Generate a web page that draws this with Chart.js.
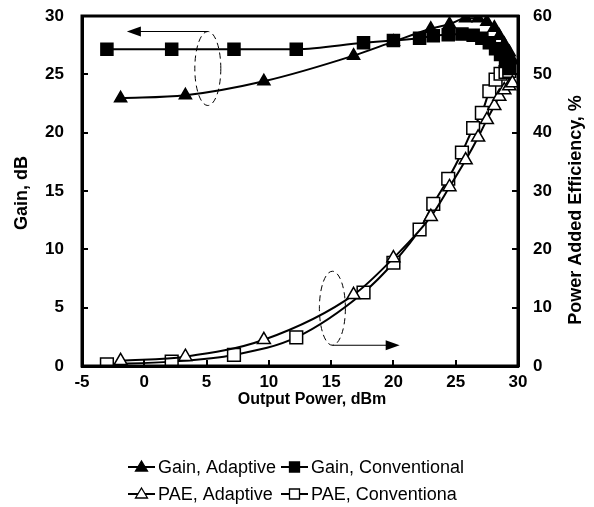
<!DOCTYPE html>
<html>
<head>
<meta charset="utf-8">
<script src="https://cdn.jsdelivr.net/npm/chart.js@4/dist/chart.umd.min.js"></script>
<style>
  html, body { margin: 0; padding: 0; background: #fff; }
  #wrap { width: 594px; height: 507px; }
</style>
</head>
<body>
<div id="wrap"><canvas id="myChart" width="594" height="507"></canvas></div>
<script>
// output power (dBm) for each measured point
const adaptivePower = [-1.9, 3.3, 9.6, 16.8, 20.0, 23.0, 24.5, 25.8, 26.8, 27.5, 28.1, 28.5, 28.9, 29.3, 29.55];
const conventionalPower = [-3.0, 2.2, 7.2, 12.2, 17.6, 20.0, 22.1, 23.2, 24.4, 25.5, 26.4, 27.1, 27.7, 28.2, 28.6, 29.0, 29.3];

// gain, dB
const gainAdaptive = [22.95, 23.2, 24.4, 26.6, 27.8, 28.9, 29.3, 29.8, 29.8, 29.5, 29.0, 28.3, 27.6, 26.9, 26.2];
const gainConventional = [27.15, 27.15, 27.15, 27.15, 27.7, 27.9, 28.1, 28.3, 28.4, 28.45, 28.35, 28.1, 27.7, 27.2, 26.7, 26.1, 25.5];

// power added efficiency, %
const paeAdaptive = [0.9, 1.6, 4.5, 12.2, 18.5, 25.6, 30.7, 35.3, 39.2, 42.2, 44.6, 46.2, 47.3, 48.0, 48.5];
const paeConventional = [0.3, 0.75, 1.9, 4.9, 12.6, 17.7, 23.4, 27.8, 32.1, 36.6, 40.8, 43.4, 47.1, 49.1, 50.1, 50.4, 50.6];

const seriesLabels = ['Gain, Adaptive', 'Gain, Conventional', 'PAE, Adaptive', 'PAE, Conventiona'];

const xTicks = [-5, 0, 5, 10, 15, 20, 25, 30];

function pts(xs, ys) {
  return xs.map((x, i) => ({ x: x, y: ys[i] }));
}

const FONT = "'Liberation Sans', Arial, sans-serif";

// frame, annotations (dashed ellipses with arrows), titles, legend
const extras = {
  id: 'extras',
  afterDatasetsDraw(chart) {
    const ctx = chart.ctx;
    const a = chart.chartArea;
    const x = chart.scales.x, y = chart.scales.y, y2 = chart.scales.y2;
    ctx.save();
    ctx.strokeStyle = '#000';
    ctx.lineWidth = 3;
    ctx.strokeRect(a.left, a.top, a.right - a.left, a.bottom - a.top);

    function ellipse(cx, cy) {
      ctx.save();
      ctx.lineWidth = 1;
      ctx.setLineDash([6, 4]);
      ctx.beginPath();
      ctx.ellipse(cx, cy, 13, 37, 0, 0, Math.PI * 2);
      ctx.stroke();
      ctx.restore();
    }
    function arrow(x1, x2, yy) {
      ctx.save();
      ctx.lineWidth = 1.2;
      ctx.fillStyle = '#000';
      const dir = x2 > x1 ? 1 : -1;
      ctx.beginPath();
      ctx.moveTo(x1, yy);
      ctx.lineTo(x2 - dir * 10, yy);
      ctx.stroke();
      ctx.beginPath();
      ctx.moveTo(x2, yy);
      ctx.lineTo(x2 - dir * 14, yy - 5);
      ctx.lineTo(x2 - dir * 14, yy + 5);
      ctx.closePath();
      ctx.fill();
      ctx.restore();
    }
    // gain group -> left axis
    const gx = x.getPixelForValue(5.1), gy = y.getPixelForValue(25.5);
    ellipse(gx, gy);
    arrow(gx, x.getPixelForValue(-1.4), gy - 37);
    // PAE group -> right axis
    const px = x.getPixelForValue(15.1), py = y2.getPixelForValue(9.9);
    ellipse(px, py);
    arrow(px, x.getPixelForValue(20.5), py + 37);
    ctx.restore();
  },
  afterDraw(chart) {
    const ctx = chart.ctx;
    ctx.save();
    ctx.fillStyle = '#000';
    ctx.textAlign = 'center';
    ctx.textBaseline = 'middle';
    // x title
    ctx.font = 'bold 16px ' + FONT;
    ctx.fillText('Output Power, dBm', 312, 400);
    // y titles, both reading bottom to top
    ctx.font = 'bold 18px ' + FONT;
    ctx.save();
    ctx.translate(22, 193);
    ctx.rotate(-Math.PI / 2);
    ctx.fillText('Gain, dB', 0, 0);
    ctx.restore();
    ctx.translate(576, 210);
    ctx.rotate(-Math.PI / 2);
    ctx.fillText('Power Added Efficiency, %', 0, 0);
    ctx.restore();

    // legend in two rows of two
    const cols = [128, 281], rows = [467, 494];
    ctx.save();
    chart.data.datasets.forEach((ds, i) => {
      const lx = cols[i % 2], ly = rows[Math.floor(i / 2)];
      ctx.strokeStyle = '#000';
      ctx.lineWidth = 2;
      ctx.beginPath();
      ctx.moveTo(lx, ly);
      ctx.lineTo(lx + 27, ly);
      ctx.stroke();
      const cx = lx + 13.5;
      ctx.fillStyle = ds.pointBackgroundColor;
      ctx.lineWidth = 1.3;
      ctx.beginPath();
      if (ds.pointStyle === 'triangle') {
        ctx.moveTo(cx, ly - 6);
        ctx.lineTo(cx + 6, ly + 4);
        ctx.lineTo(cx - 6, ly + 4);
        ctx.closePath();
      } else {
        ctx.rect(cx - 5, ly - 5, 10, 10);
      }
      ctx.fill();
      ctx.stroke();
      ctx.fillStyle = '#000';
      ctx.font = '18px ' + FONT;
      ctx.textBaseline = 'middle';
      ctx.textAlign = 'left';
      ctx.fillText(ds.label, lx + 30, ly + 1);
    });
    ctx.restore();
  }
};

const tickFont = { family: FONT, size: 17, weight: 'bold' };

function noOverflow(s) {
  s.paddingTop = 0;
  s.paddingBottom = 0;
}

const ctx = document.getElementById('myChart').getContext('2d');
const myChart = new Chart(ctx, {
  type: 'scatter',
  data: {
    datasets: [{
      label: seriesLabels[0],
      data: pts(adaptivePower, gainAdaptive),
      yAxisID: 'y',
      pointStyle: 'triangle',
      pointRadius: 7,
      pointBackgroundColor: '#000',
      pointBorderColor: '#000'
    },
    {
      label: seriesLabels[1],
      data: pts(conventionalPower, gainConventional),
      yAxisID: 'y',
      pointStyle: 'rect',
      pointRadius: 8.5,
      pointBackgroundColor: '#000',
      pointBorderColor: '#000'
    },
    {
      label: seriesLabels[2],
      data: pts(adaptivePower, paeAdaptive),
      yAxisID: 'y2',
      pointStyle: 'triangle',
      pointRadius: 7.5,
      pointBackgroundColor: '#fff',
      pointBorderColor: '#000'
    },
    {
      label: seriesLabels[3],
      data: pts(conventionalPower, paeConventional),
      yAxisID: 'y2',
      pointStyle: 'rect',
      pointRadius: 9,
      pointBackgroundColor: '#fff',
      pointBorderColor: '#000'
    }].map(d => Object.assign({
      showLine: true,
      borderColor: '#000',
      borderWidth: 2,
      pointBorderWidth: 1.5,
      tension: 0.35,
      cubicInterpolationMode: 'monotone'
    }, d))
  },
  options: {
    responsive: false,
    animation: false,
    layout: { padding: { top: 16, bottom: 90, left: 0, right: 0 } },
    plugins: {
      legend: { display: false },
      tooltip: { enabled: false }
    },
    scales: {
      x: {
        type: 'linear',
        min: xTicks[0],
        max: xTicks[xTicks.length - 1],
        afterBuildTicks: s => { s.ticks = xTicks.map(v => ({ value: v })); },
        afterFit: s => { s.height = 51; s.paddingLeft = 0; s.paddingRight = 0; },
        border: { color: '#000', width: 3 },
        grid: { drawOnChartArea: false, tickLength: -6, color: '#000', lineWidth: 2 },
        ticks: { color: '#000', font: tickFont, padding: 12 },
        title: { display: false }
      },
      y: {
        position: 'left',
        min: 0,
        max: 30,
        ticks: { stepSize: 5, color: '#000', font: tickFont, padding: 24 },
        afterFit: s => { s.width = 82; noOverflow(s); },
        border: { color: '#000', width: 3 },
        grid: { drawOnChartArea: false, tickLength: -6, color: '#000', lineWidth: 2 },
        title: { display: false }
      },
      y2: {
        position: 'right',
        min: 0,
        max: 60,
        ticks: { stepSize: 10, color: '#000', font: tickFont, padding: 21 },
        afterFit: s => { s.width = 76; noOverflow(s); },
        border: { color: '#000', width: 3 },
        grid: { drawOnChartArea: false, tickLength: -6, color: '#000', lineWidth: 2 },
        title: { display: false }
      }
    }
  },
  plugins: [extras]
});
</script>
</body>
</html>
